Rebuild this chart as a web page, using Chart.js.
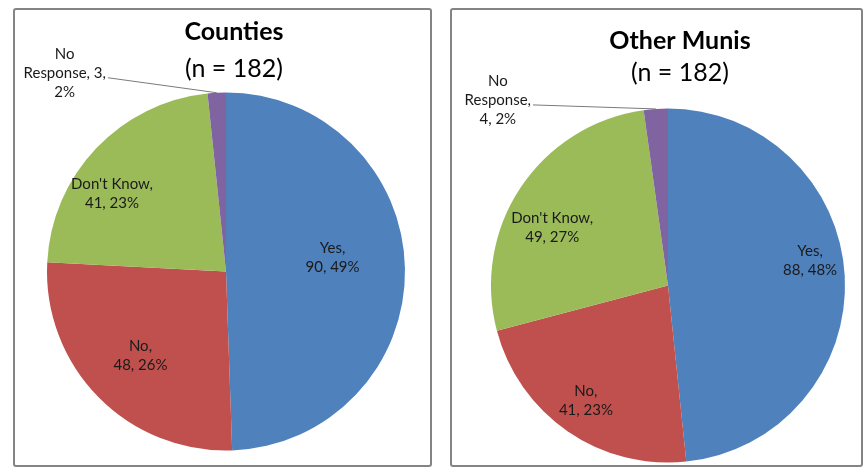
<!DOCTYPE html>
<html>
<head>
<meta charset="utf-8">
<script src="https://cdn.jsdelivr.net/npm/chart.js@4.4.1/dist/chart.umd.min.js"></script>
<style>
  body { margin: 0; background: #fff; }
  .panel { position: absolute; border: 2px solid #848484; border-radius: 3px; box-sizing: border-box; }
  .panel canvas { position: absolute; left: 0; top: 0; }
</style>
</head>
<body>
<div class="panel" style="left:13px;top:8px;width:419px;height:459px"><canvas id="counties" width="415" height="455"></canvas></div>
<div class="panel" style="left:450px;top:8px;width:413px;height:459px"><canvas id="munis" width="409" height="455"></canvas></div>
<script>
// survey answers, same categories for both groups
const categories = ['Yes', 'No', "Don't Know", 'No Response'];
const countiesValues = [90, 48, 41, 3];
const munisValues = [88, 41, 49, 4];
const countiesTitle = ['Counties', '(n = 182)'];
const munisTitle = ['Other Munis', '(n = 182)'];
const sliceColors = ['#4f81bd', '#c0504d', '#9bbb59', '#8064a2'];

const FONT = 'Lato, "Open Sans", sans-serif';

// draws the "Cat, n, pct%" labels and the two title lines
const pieLabels = {
  id: 'pieLabels',
  afterDatasetsDraw(chart, args, opts) {
    const ctx = chart.ctx;
    const meta = chart.getDatasetMeta(0);
    const values = chart.data.datasets[0].data;
    const total = values.reduce((a, b) => a + b, 0);
    ctx.save();
    ctx.fillStyle = '#1a1a1a';
    ctx.textAlign = 'center';
    ctx.textBaseline = 'middle';
    ctx.font = '15px ' + FONT;

    meta.data.forEach((arc, i) => {
      const p = arc.getProps(['x', 'y', 'startAngle', 'endAngle', 'outerRadius'], true);
      const cat = chart.data.labels[i];
      const pct = Math.round(values[i] / total * 100);
      const place = opts.place[i];
      const lh = opts.lineHeight;

      if (place.outside) {
        const mid = (p.startAngle + p.endAngle) / 2;
        const ax = p.x + Math.cos(mid) * p.outerRadius;
        const ay = p.y + Math.sin(mid) * p.outerRadius;
        // greedy wrap like excel does
        const words = (cat + ', ' + values[i] + ', ' + pct + '%').split(' ');
        const lines = [];
        let cur = '';
        words.forEach(w => {
          const test = cur ? cur + ' ' + w : w;
          if (cur && ctx.measureText(test).width > place.wrap) {
            lines.push(cur);
            cur = w;
          } else {
            cur = test;
          }
        });
        lines.push(cur);
        const cx = ax + place.dx, cy = ay + place.dy;
        lines.forEach((t, k) => ctx.fillText(t, cx, cy + (k - (lines.length - 1) / 2) * lh));
        const k = Math.floor(lines.length / 2);
        const lx = cx + ctx.measureText(lines[k]).width / 2 + 2;
        const ly = cy + (k - (lines.length - 1) / 2) * lh + 5;
        ctx.strokeStyle = '#7a7a7a';
        ctx.lineWidth = 1;
        ctx.beginPath();
        ctx.moveTo(lx, ly);
        ctx.lineTo(ax, ay);
        ctx.stroke();
      } else {
        const a = p.startAngle + (p.endAngle - p.startAngle) * place.at;
        const r = p.outerRadius * place.r;
        const x = p.x + Math.cos(a) * r;
        const y = p.y + Math.sin(a) * r;
        const lines = [cat + ',', values[i] + ', ' + pct + '%'];
        lines.forEach((t, k) => ctx.fillText(t, x, y + (k - 0.5) * lh));
      }
    });

    // title
    ctx.fillStyle = '#000';
    ctx.font = 'bold 25px ' + FONT;
    ctx.fillText(opts.title[0], opts.titleX, opts.titleY[0]);
    ctx.font = '25px ' + FONT;
    ctx.fillText(opts.title[1], opts.titleX, opts.titleY[1]);
    ctx.restore();
  }
};

function makePie(id, values, title, padding, place, titleX, titleY) {
  return new Chart(document.getElementById(id), {
    type: 'pie',
    data: {
      labels: categories,
      datasets: [{
        data: values,
        backgroundColor: sliceColors,
        borderWidth: 0
      }]
    },
    options: {
      responsive: false,
      animation: false,
      layout: { padding: padding },
      plugins: {
        legend: { display: false },
        tooltip: { enabled: false },
        pieLabels: {
          place: place,
          lineHeight: 19,
          title: title,
          titleX: titleX,
          titleY: titleY
        }
      }
    },
    plugins: [pieLabels]
  });
}

makePie('counties', countiesValues, countiesTitle,
  { left: 32, right: 25, top: 82.5, bottom: 14.5 },
  [
    { at: 0.465, r: 0.60 },
    { at: 0.50, r: 0.67 },
    { at: 0.385, r: 0.77 },
    { outside: true, dx: -152, dy: -20, wrap: 86.5 }
  ],
  219, [22, 59]);

makePie('munis', munisValues, munisTitle,
  { left: 39, right: 16, top: 98.5, bottom: 2.5 },
  [
    { at: 0.46, r: 0.815 },
    { at: 0.51, r: 0.80 },
    { at: 0.425, r: 0.73 },
    { outside: true, dx: -158, dy: -9, wrap: 72 }
  ],
  228, [31, 63]);
</script>
</body>
</html>
